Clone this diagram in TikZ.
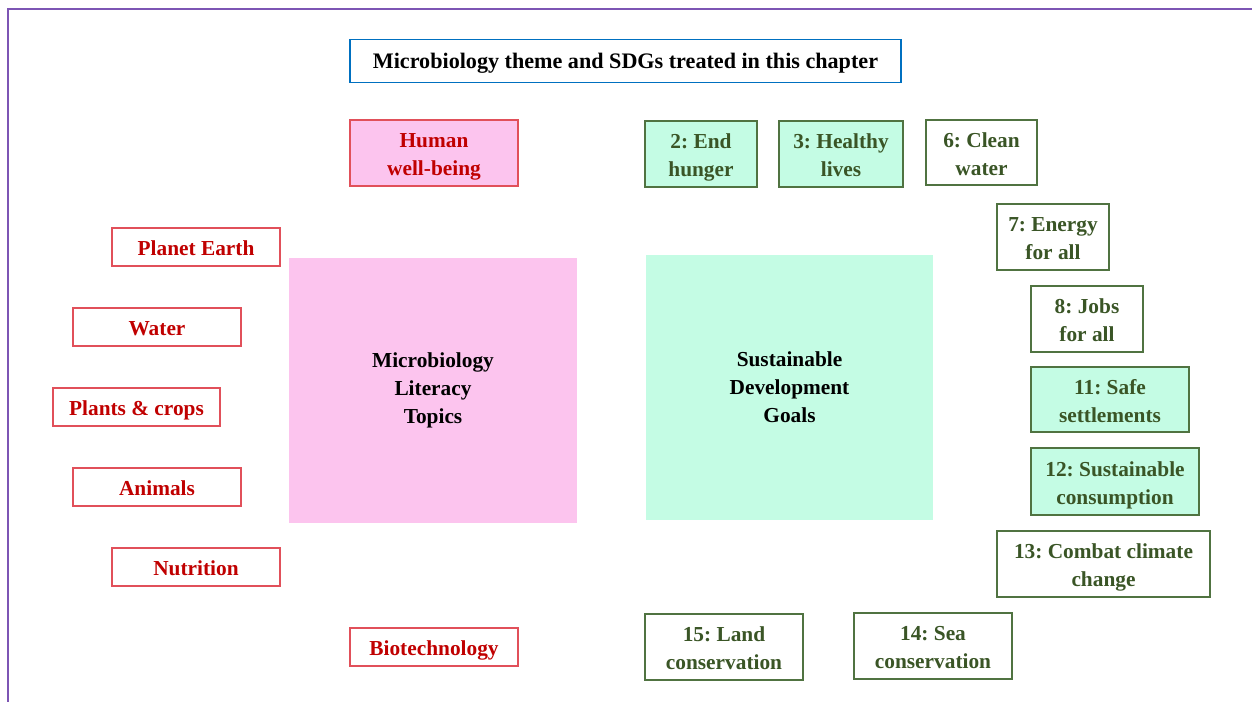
\documentclass[tikz,border=0pt]{standalone}
\usepackage{fontspec}
\setmainfont{Liberation Serif}
\frenchspacing
\definecolor{frame}{RGB}{125,85,180}
\definecolor{tblue}{RGB}{0,112,192}
\definecolor{rtext}{RGB}{192,0,0}
\definecolor{rborder}{RGB}{225,80,90}
\definecolor{pinkfill}{RGB}{252,196,238}
\definecolor{greenfill}{RGB}{196,252,228}
\definecolor{gtext}{RGB}{58,85,38}
\definecolor{gborder}{RGB}{80,115,65}
\newcommand\bxt[1]{\begin{tabular}{@{}c@{}}\rule{0pt}{19.7pt}#1\end{tabular}}
\tikzset{
  box/.style={draw, line width=1pt, inner sep=0pt,
    font=\bfseries\fontsize{16}{21}\selectfont},
  topic/.style={box, draw=rborder, text=rtext},
  sdgw/.style={box, draw=gborder, text=gtext, fill=white},
  sdgg/.style={box, draw=gborder, text=gtext, fill=greenfill},
  bigsq/.style={align=center, inner sep=0pt, minimum width=288*0.75pt, minimum height=265*0.75pt, font=\bfseries\fontsize{16}{21}\selectfont},
}
\begin{document}
\begin{tikzpicture}[x=0.75pt,y=-0.75pt]
\useasboundingbox (0,0) rectangle (1252,702);
\draw[frame, line width=1.5pt] (8,702) -- (8,9) -- (1252,9);
\node[draw=tblue, line width=1.3pt, inner sep=0pt, text depth=1pt, minimum width=551*0.75pt, minimum height=43*0.75pt, font=\bfseries\fontsize{16.6}{18}\selectfont] (title) at (625.5,61) {Microbiology theme and SDGs treated in this chapter};
% topics
\node[topic, fill=pinkfill, minimum width=168*0.75pt, minimum height=66*0.75pt] (hw) at (434,153) {\bxt{Human\\well-being}};
\node[topic, minimum width=168*0.75pt, minimum height=38*0.75pt] (pe) at (196,247) {\bxt{Planet Earth}};
\node[topic, minimum width=168*0.75pt, minimum height=38*0.75pt] (wa) at (157,327) {\bxt{Water}};
\node[topic, minimum width=167*0.75pt, minimum height=38*0.75pt] (pc) at (136.5,407) {\bxt{Plants \& crops}};
\node[topic, minimum width=168*0.75pt, minimum height=38*0.75pt] (an) at (157,487) {\bxt{Animals}};
\node[topic, minimum width=168*0.75pt, minimum height=38*0.75pt] (nu) at (196,567) {\bxt{Nutrition}};
\node[topic, minimum width=168*0.75pt, minimum height=38*0.75pt] (bt) at (434,647) {\bxt{Biotechnology}};
% big squares
\node[bigsq, fill=pinkfill] (mlt) at (433,390.5) {Microbiology\\Literacy\\Topics};
\node[bigsq, fill=greenfill, minimum width=287*0.75pt] (sdg) at (789.5,387.5) {Sustainable\\Development\\Goals};
% SDGs
\node[sdgg, minimum width=112*0.75pt, minimum height=66*0.75pt] (g2) at (701,154) {\bxt{2: End\\hunger}};
\node[sdgg, minimum width=124*0.75pt, minimum height=66*0.75pt] (g3) at (841,154) {\bxt{3: Healthy\\lives}};
\node[sdgw, minimum width=111*0.75pt, minimum height=65*0.75pt] (g6) at (981.5,152.5) {\bxt{6: Clean\\water}};
\node[sdgw, minimum width=112*0.75pt, minimum height=66*0.75pt] (g7) at (1053,237) {\bxt{7: Energy\\for all}};
\node[sdgw, minimum width=112*0.75pt, minimum height=66*0.75pt] (g8) at (1087,319) {\bxt{8: Jobs\\for all}};
\node[sdgg, minimum width=158*0.75pt, minimum height=65*0.75pt] (g11) at (1110,399.5) {\bxt{11: Safe\\settlements}};
\node[sdgg, minimum width=168*0.75pt, minimum height=67*0.75pt] (g12) at (1115,481.5) {\bxt{12: Sustainable\\consumption}};
\node[sdgw, minimum width=213*0.75pt, minimum height=66*0.75pt] (g13) at (1103.5,564) {\bxt{13: Combat climate\\change}};
\node[sdgw, minimum width=158*0.75pt, minimum height=66*0.75pt] (g15) at (724,647) {\bxt{15: Land\\conservation}};
\node[sdgw, minimum width=158*0.75pt, minimum height=66*0.75pt] (g14) at (933,646) {\bxt{14: Sea\\conservation}};
\end{tikzpicture}
\end{document}
